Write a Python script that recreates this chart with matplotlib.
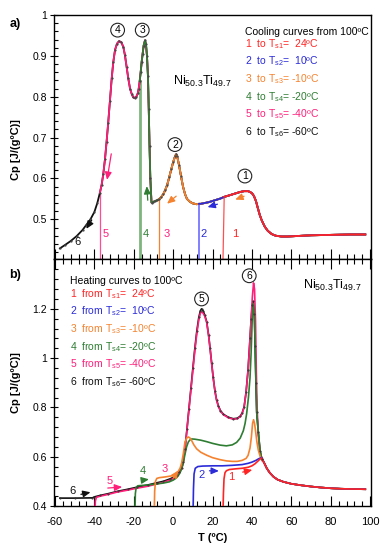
import numpy as np
import matplotlib
matplotlib.use('Agg')
import matplotlib.pyplot as plt
from matplotlib.ticker import MultipleLocator, FormatStrFormatter

plt.rcParams['font.family'] = ['Liberation Sans', 'DejaVu Sans']
plt.rcParams['mathtext.default'] = 'regular'
plt.rcParams['axes.unicode_minus'] = False

# ---------------- Panel a: cooling (common trace) -------------
T_cool = [97.5, 90, 80, 70, 62, 58, 55, 52, 50, 48, 46.5, 45, 44, 43, 42, 41, 40,
          39, 38, 37, 36, 34, 32, 30, 28, 25.9, 24, 22, 20, 18, 16, 14, 13.1, 12,
          10, 8.5, 7, 6, 5, 4, 3, 2, 1.5, 1, 0, -1, -2, -3, -4, -5, -6, -7, -8,
          -9, -10, -11, -11.6, -12.0, -12.4, -12.8, -13.3, -13.8, -14.3, -15.0,
          -15.5, -16.0, -16.5, -17.0, -17.5, -18.0, -18.7, -19.5, -20.3, -21.0,
          -21.9, -22.8, -23.6, -24.5, -25.3, -26.3, -27.5, -28.5, -29.5, -30.4,
          -31.2, -32.1, -33.0, -33.8, -34.6, -35.5, -36.3, -37.2, -38.5, -40,
          -42, -44, -46, -49, -52, -55, -57.5]
Cp_cool = [0.463, 0.463, 0.462, 0.461, 0.459, 0.458, 0.458, 0.460, 0.464, 0.472,
           0.482, 0.497, 0.510, 0.527, 0.545, 0.557, 0.564,
           0.567, 0.569, 0.569, 0.569, 0.567, 0.564, 0.561, 0.558, 0.555, 0.551,
           0.548, 0.545, 0.542, 0.540, 0.538, 0.538, 0.537,
           0.539, 0.543, 0.550, 0.562, 0.580, 0.605, 0.632, 0.655, 0.659, 0.655,
           0.640, 0.622, 0.603, 0.585, 0.572, 0.562, 0.555, 0.550, 0.547,
           0.545, 0.543, 0.541, 0.600, 0.680, 0.770, 0.850, 0.900, 0.928, 0.938,
           0.925, 0.905, 0.885, 0.860, 0.838, 0.820, 0.808, 0.800, 0.797, 0.799,
           0.806, 0.820, 0.845, 0.872, 0.902, 0.922, 0.933, 0.936, 0.930, 0.915,
           0.885, 0.845, 0.790, 0.735, 0.690, 0.648, 0.610, 0.585, 0.565, 0.540,
           0.518, 0.500, 0.487, 0.474, 0.459, 0.447, 0.437, 0.429]
Ts_cool_top = [25.9, 13.1, -7.0, -17.0, -37.2, -57.5]
Ts_cool_bottom = [25.2, 13.1, -7.0, -17.0, -37.2, None]

cool_labels = ['1  to T$_{s1}$=  24ºC', '2  to T$_{s2}$=  10ºC', '3  to T$_{s3}$= -10ºC',
               '4  to T$_{s4}$= -20ºC', '5  to T$_{s5}$= -40ºC', '6  to T$_{s6}$= -60ºC']
heat_labels = ['1  from T$_{s1}$=  24ºC', '2  from T$_{s2}$=  10ºC', '3  from T$_{s3}$= -10ºC',
               '4  from T$_{s4}$= -20ºC', '5  from T$_{s5}$= -40ºC', '6  from T$_{s6}$= -60ºC']

# ---------------- Panel b: heating curves -------------
T_tail = [46, 47.5, 49, 51, 53, 56, 60, 65, 70, 75, 80, 85, 90, 97.5]
Cp_tail = [0.578, 0.553, 0.535, 0.518, 0.507, 0.498, 0.490, 0.484, 0.479, 0.475,
           0.472, 0.470, 0.469, 0.468]

T_h1 = [25.3, 25.5, 25.8, 26.3, 27.0, 28.5, 32, 35, 38, 40, 41.5, 43, 44, 45]
Cp_h1 = [0.38, 0.45, 0.51, 0.535, 0.543, 0.548, 0.551, 0.553, 0.557, 0.563, 0.571,
         0.582, 0.590, 0.595]

T_h2 = [10.1, 10.3, 10.6, 11.2, 12.5, 15, 20, 25, 30, 35, 38, 40, 42, 43.5, 45]
Cp_h2 = [0.38, 0.47, 0.53, 0.553, 0.560, 0.562, 0.563, 0.563, 0.565, 0.568, 0.573,
         0.578, 0.585, 0.592, 0.597]

T_h3 = [-9.6, -9.4, -9.0, -8.3, -7, -4, -1, 1, 2.5, 3.5, 4.3, 5.1, 6, 7, 7.7, 8.5,
        9.4, 10.5, 11.9, 14, 17, 20, 23.8, 27, 30, 32.5, 35, 37, 38, 39, 39.7, 40.3,
        40.8, 41.3, 41.8, 42.5, 43.2, 44.2, 45]
Cp_h3 = [0.38, 0.46, 0.50, 0.512, 0.515, 0.518, 0.522, 0.530, 0.540, 0.553, 0.575,
         0.610, 0.660, 0.677, 0.680, 0.676, 0.665, 0.648, 0.632, 0.618, 0.606, 0.596,
         0.588, 0.583, 0.581, 0.581, 0.585, 0.593, 0.605, 0.635, 0.680, 0.735, 0.750,
         0.735, 0.705, 0.660, 0.627, 0.600, 0.588]

T_h4 = [-19.4, -19.2, -18.8, -18, -15, -12, -8, -5, -2, 0, 1.5, 2.5, 3.5, 4.3, 5.1,
        6, 6.8, 7.7, 8.5, 9.5, 11, 14, 17, 20, 23.8, 27, 30, 32.2, 34, 35.6, 36.5,
        37.3, 38.2, 39, 39.6, 40.1, 40.7, 41.2, 41.6, 42, 42.4, 43.2, 44.1, 45]
Cp_h4 = [0.38, 0.45, 0.475, 0.482, 0.484, 0.486, 0.490, 0.493, 0.498, 0.505, 0.513,
         0.522, 0.535, 0.553, 0.575, 0.610, 0.640, 0.660, 0.668, 0.672, 0.671, 0.667,
         0.661, 0.654, 0.647, 0.644, 0.648, 0.658, 0.675, 0.705, 0.735, 0.775, 0.840,
         0.920, 1.030, 1.150, 1.222, 1.180, 1.050, 0.900, 0.780, 0.700, 0.625, 0.590]

T_h5 = [-39.7, -39.5, -39, -37, -33, -28.7, -24, -18.5, -13, -8.4, -5, -1.6, 0.5,
        1.8, 3, 4.3, 5.1, 6, 7, 8, 9, 10, 11, 12, 13, 13.8, 14.4, 15.2, 16, 17, 18,
        18.7, 19.5, 20.3, 21.2, 22, 22.9, 24, 25.5, 28, 30.5, 32.5, 34, 35, 36, 37,
        38, 38.8, 39.5, 40.2, 40.8, 41.3, 41.8, 42.2, 42.6, 43.2, 44, 45]
Cp_h5 = [0.38, 0.42, 0.435, 0.440, 0.447, 0.456, 0.463, 0.472, 0.480, 0.489, 0.496,
         0.505, 0.513, 0.520, 0.533, 0.550, 0.575, 0.630, 0.710, 0.790, 0.870, 0.950,
         1.030, 1.100, 1.155, 1.182, 1.188, 1.182, 1.170, 1.145, 1.090, 1.040, 0.980,
         0.920, 0.865, 0.830, 0.805, 0.785, 0.770, 0.758, 0.752, 0.754, 0.762, 0.775,
         0.800, 0.860, 0.950, 1.050, 1.150, 1.250, 1.305, 1.280, 1.150, 0.950, 0.800,
         0.690, 0.620, 0.585]

T_h6 = [-57.5, -50, -41, -40, -37, -33, -28, -23, -18.5, -13, -8.4, -5, -1.6, 0.5,
        1.8, 3, 4.3, 5.1, 6, 7, 8, 9, 10, 11, 12, 13, 13.8, 14.4, 15.2, 16, 17, 18,
        18.7, 19.5, 20.3, 21.2, 22, 22.9, 24, 25.5, 28, 30.5, 32.5, 34, 35, 36, 37,
        38, 39, 39.6, 40.1, 40.7, 41.2, 41.6, 42, 42.4, 43.2, 44.1, 45]
Cp_h6 = [0.432, 0.432, 0.433, 0.437, 0.443, 0.450, 0.460, 0.468, 0.476, 0.485, 0.494,
         0.500, 0.510, 0.518, 0.525, 0.537, 0.553, 0.577, 0.632, 0.712, 0.795, 0.877,
         0.960, 1.040, 1.110, 1.165, 1.192, 1.200, 1.192, 1.175, 1.148, 1.092, 1.042,
         0.982, 0.922, 0.867, 0.832, 0.807, 0.787, 0.772, 0.760, 0.754, 0.756, 0.764,
         0.777, 0.802, 0.862, 0.952, 1.080, 1.160, 1.215, 1.230, 1.180, 1.050, 0.900,
         0.780, 0.700, 0.625, 0.590]

colors = ['#ff2424', '#2b2bd8', '#f5822e', '#2e7d32', '#ff1f7a', '#111111']
drop_colors = ['#ff5050', '#6b6bff', '#f5822e', '#7db57d', '#ff4c92', '#111111']
drop_widths = [0.9, 1.2, 0.9, 2.0, 0.9, 0.9]

fig = plt.figure(figsize=(3.87, 5.5), dpi=100)
ax1 = fig.add_axes([0.1395, 0.5291, 0.8191, 0.4436])
ax2 = fig.add_axes([0.1395, 0.0800, 0.8191, 0.4491])

T_cool_a = np.array(T_cool)
Cp_cool_a = np.array(Cp_cool)

# draw curve 6 first, curve 1 on top
for i in range(5, -1, -1):
    m = T_cool_a >= Ts_cool_top[i] - 1e-9
    x = T_cool_a[m]
    y = Cp_cool_a[m]
    ax1.plot(x, y, color=colors[i], lw=1.3, zorder=3 + (5 - i) * 0.1)
    if Ts_cool_bottom[i] is not None:
        ax1.plot([x[-1], Ts_cool_bottom[i]], [y[-1], 0.38], color=drop_colors[i],
                 lw=drop_widths[i], zorder=2)
# dark dots of the measured points (visible where curves 3-6 show)
md = T_cool_a <= 4
ax1.plot(T_cool_a[md], Cp_cool_a[md], ls='none', marker='.', ms=1.2, color='#444444', zorder=4)

ax1.set_xlim(-60.5, 100.4)
ax1.set_ylim(0.403, 1.0)
ax2.set_xlim(-60.5, 100.4)
ax2.set_ylim(0.4, 1.402)

heat_T = [T_h1, T_h2, T_h3, T_h4, T_h5, T_h6]
heat_Cp = [Cp_h1, Cp_h2, Cp_h3, Cp_h4, Cp_h5, Cp_h6]
for i in [5, 4, 3, 2, 1, 0]:
    x = list(heat_T[i]) + T_tail
    y = list(heat_Cp[i]) + Cp_tail
    ax2.plot(x, y, color=colors[i], lw=1.2, zorder=3 + (5 - i) * 0.1)
ax2.plot(T_h6, Cp_h6, ls='none', marker='.', ms=1.0, color='#333333', zorder=4)

# ticks
for ax in (ax1, ax2):
    ax.xaxis.set_major_locator(MultipleLocator(20))
    ax.xaxis.set_minor_locator(MultipleLocator(4))
    ax.tick_params(axis='x', which='major', direction='in', length=7, width=0.8,
                   top=False, bottom=True, labelsize=8, pad=8)
    ax.tick_params(axis='x', which='minor', direction='in', length=3.5, width=0.8,
                   top=False, bottom=True)
    ax.tick_params(axis='y', which='major', direction='inout', length=6, width=0.8,
                   labelsize=7.5, pad=2)
    ax.tick_params(axis='y', which='minor', direction='in', length=3, width=0.8)
    for s in ax.spines.values():
        s.set_linewidth(1.0)
    ax.yaxis.set_major_formatter(FormatStrFormatter('%g'))

ax1.yaxis.set_major_locator(MultipleLocator(0.1))
ax1.yaxis.set_minor_locator(MultipleLocator(0.02))
ax1.set_yticks([0.5, 0.6, 0.7, 0.8, 0.9, 1.0])
ax1.tick_params(axis='x', labelbottom=False)
ax2.set_yticks([0.4, 0.6, 0.8, 1.0, 1.2])
ax2.yaxis.set_minor_locator(MultipleLocator(0.04))
ax2.tick_params(axis='x', which='both', top=True)

ax1.set_ylabel('Cp [J/(gºC)]', fontsize=8, fontweight='bold')
ax2.set_ylabel('Cp [J/(gºC)]', fontsize=8, fontweight='bold')
ax1.yaxis.set_label_coords(-0.105, 0.45)
ax2.yaxis.set_label_coords(-0.105, 0.5)
ax2.set_xlabel('T (ºC)', fontsize=8, fontweight='bold', labelpad=4)

fig.text(15 / 387, 1 - 24 / 550, 'a)', fontsize=9, fontweight='bold', ha='center', va='center')
fig.text(15 / 387, 1 - 275 / 550, 'b)', fontsize=9, fontweight='bold', ha='center', va='center')

# legends (text lines)
ax1.text(36.4, 0.951, 'Cooling curves from 100ºC', fontsize=7.5, va='baseline', ha='left')
for i, lab in enumerate(cool_labels):
    ax1.text(36.4, 0.922 - i * 0.0432, lab, fontsize=7.5, color=colors[i], va='baseline', ha='left')
ax2.text(-52.4, 1.3, 'Heating curves to 100ºC', fontsize=7.5, va='baseline', ha='left')
for i, lab in enumerate(heat_labels):
    ax2.text(-52.4, 1.249 - i * 0.0718, lab, fontsize=7.5, color=colors[i], va='baseline', ha='left')

ax1.text(0, 0.83, 'Ni$_{50.3}$Ti$_{49.7}$', fontsize=9, ha='left', va='baseline')
ax2.text(66, 1.28, 'Ni$_{50.3}$Ti$_{49.7}$', fontsize=9, ha='left', va='baseline')

circ = dict(boxstyle='circle,pad=0.18', fc='white', ec='#222222', lw=0.8)
for (tx, ty, s) in [(36.4, 0.606, '1'), (0.9, 0.683, '2'), (-15.7, 0.963, '3'), (-28.2, 0.963, '4')]:
    ax1.text(tx, ty, s, fontsize=7.5, ha='center', va='center', bbox=circ, zorder=6)
for (tx, ty, s) in [(14.4, 1.24, '5'), (38.6, 1.334, '6')]:
    ax2.text(tx, ty, s, fontsize=7.5, ha='center', va='center', bbox=circ, zorder=6)

# number labels near drops, panel a
for (tx, s, c) in [(-48.5, '6', colors[5]), (-34.3, '5', colors[4]), (-13.8, '4', colors[3]),
                   (-3.3, '3', colors[4]), (15.6, '2', colors[1]), (31.4, '1', colors[0])]:
    ty = 0.445 if s == '6' else 0.463
    ax1.text(tx, ty, s, fontsize=8, color=c, ha='center', va='center', zorder=6)

def arrow(ax, x0, y0, x1, y1, c):
    ax.annotate('', xy=(x1, y1), xytext=(x0, y0),
                arrowprops=dict(arrowstyle='-|>,head_length=0.45,head_width=0.2', color=c, lw=0.9),
                zorder=7)

arrow(ax1, -40.6, 0.504, -44.8, 0.471, colors[5])
arrow(ax1, -31.2, 0.667, -33.8, 0.59, colors[4])
arrow(ax1, -12.8, 0.54, -13.5, 0.588, colors[3])
arrow(ax1, 2.6, 0.561, -4.2, 0.534, colors[2])
arrow(ax1, 23.8, 0.539, 16.1, 0.528, colors[1])
arrow(ax1, 37.3, 0.559, 30.2, 0.546, colors[2])

arrow(ax2, -48.2, 0.445, -40.6, 0.458, colors[5])
arrow(ax2, -34.6, 0.472, -24.5, 0.478, colors[4])
arrow(ax2, -15.2, 0.505, -10.9, 0.510, colors[3])
arrow(ax2, -0.8, 0.505, 3.5, 0.553, colors[2])
arrow(ax2, 17.0, 0.543, 24.6, 0.542, colors[1])
arrow(ax2, 33.9, 0.535, 41.5, 0.549, colors[0])

for (tx, ty, s, c) in [(-51.3, 0.46, '6', colors[5]), (-32.1, 0.501, '5', colors[4]),
                       (-15.2, 0.543, '4', colors[3]), (-4.5, 0.549, '3', colors[4]),
                       (14.4, 0.526, '2', colors[1]), (29.7, 0.519, '1', colors[0])]:
    ax2.text(tx, ty, s, fontsize=8, color=c, ha='center', va='center', zorder=6)

fig.savefig('out.png', dpi=100)
